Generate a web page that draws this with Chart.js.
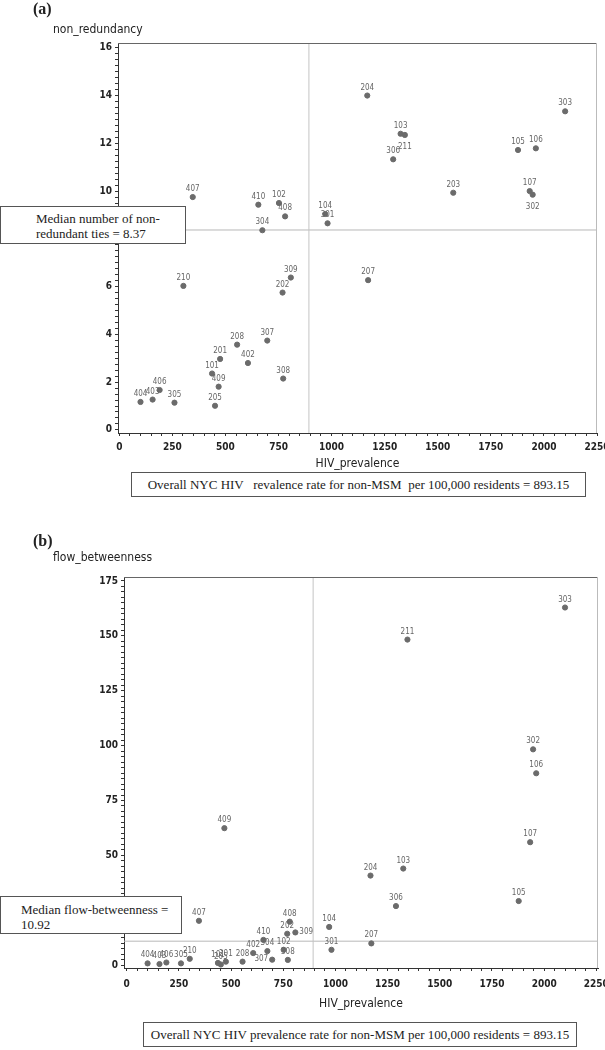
<!DOCTYPE html>
<html>
<head>
<meta charset="utf-8">
<script src="https://cdn.jsdelivr.net/npm/chart.js@4.4.1/dist/chart.umd.min.js"></script>
<style>
body { margin:0; background:#fff; width:605px; height:1050px; position:relative; overflow:hidden;
       font-family:'Liberation Sans Narrow','DejaVu Sans Condensed','Liberation Sans',Arial,sans-serif; color:#222; }
canvas { position:absolute; left:0; }
.t { position:absolute; white-space:pre; z-index:2; }
.panel { font-family:'Liberation Serif','Times New Roman',serif; font-weight:bold; font-size:16px; }
.ytitle { font-size:12px; }
.box { position:absolute; z-index:2; border:1px solid #555; background:#fff; box-sizing:border-box;
       font-family:'Liberation Serif','Times New Roman',serif; font-size:13px; line-height:15px; white-space:pre; }
</style>
</head>
<body>
<div class="t panel" style="left:33px;top:0px">(a)</div>
<div class="t ytitle" style="left:53px;top:22px">non_redundancy</div>
<canvas id="chartA" width="605" height="500" style="top:0"></canvas>
<div class="box" style="left:0;top:206px;width:186px;height:38px;padding:4px 0 0 35px">Median number of non-
redundant ties = 8.37</div>
<div class="box" style="left:131px;top:472px;width:455px;height:25px;padding-top:4px;text-align:center">Overall NYC HIV   revalence rate for non-MSM  per 100,000 residents = 893.15</div>

<div class="t panel" style="left:33px;top:532px">(b)</div>
<div class="t ytitle" style="left:53px;top:550px">flow_betweenness</div>
<canvas id="chartB" width="605" height="550" style="top:500px"></canvas>
<div class="box" style="left:0;top:896px;width:182px;height:38px;padding:5px 0 0 20px">Median flow-betweenness =
10.92</div>
<div class="box" style="left:143px;top:1022px;width:434px;height:25px;padding-top:4px;text-align:center">Overall NYC HIV prevalence rate for non-MSM per 100,000 residents = 893.15</div>

<script>
const districts = ['101','102','103','104','105','106','107','201','202','203','204','205','207','208','210','211',
    '301','302','303','304','305','306','307','308','309','402','403','404','406','407','408','409','410'];
const hivPrevalence = [437,752,1325,970,1878,1962,1933,475,769,1573,1168,451,1172,555,302,1345,
    981,1947,2100,674,260,1290,697,772,808,606,157,100,190,346,781,468,655];
const nonRedundancy = [2.36,9.50,12.40,9.04,11.72,11.79,10.0,2.97,5.75,9.93,14.0,1.01,6.27,3.57,6.03,12.35,
    8.65,9.85,13.34,8.36,1.14,11.33,3.74,2.15,6.38,2.80,1.27,1.17,1.67,9.75,8.94,1.81,9.43];
const flowBetweenness = [1.0,7.0,44.0,17.4,29.2,87.4,56.0,1.6,14.3,null,40.8,0.3,9.9,1.6,2.9,148.3,
    7.0,98.3,162.9,6.4,0.8,26.9,2.5,2.4,14.9,5.5,0.5,0.8,1.2,20.2,19.8,62.4,11.5];
const overallRate = 893.15;
const medianNonRedundancy = 8.37;
const medianFlow = 10.92;
const xTickLabels = [0,250,500,750,1000,1250,1500,1750,2000,2250];
const yTickLabelsA = [0,2,4,6,8,10,12,14,16];
const yTickLabelsB = [0,25,50,75,100,125,150,175];

// where a district label sits relative to its dot (default: above)
const labelSideA = {'211':'below','302':'below'};
const labelSideB = {'309':'right','307':'left'};

const narrow = "'Liberation Sans Narrow','DejaVu Sans Condensed','Liberation Sans',Arial";
const tickFont = {family: narrow, size: 10, weight: 'bold'};

const pointLabels = {
    id: 'pointLabels',
    afterDatasetsDraw(chart, args, opts) {
        const ctx = chart.ctx;
        const meta = chart.getDatasetMeta(0);
        ctx.save();
        ctx.font = "8px " + narrow;
        ctx.fillStyle = '#666';
        ctx.textBaseline = 'middle';
        meta.data.forEach((pt, i) => {
            if (pt.skip || isNaN(pt.y)) return;
            const name = chart.data.datasets[0].data[i].name;
            const side = opts.sides[name] || 'above';
            let x = pt.x, y = pt.y - 8;
            ctx.textAlign = 'center';
            if (side === 'below') y = pt.y + 12;
            if (side === 'right') { x = pt.x + 4; y = pt.y - 1; ctx.textAlign = 'left'; }
            if (side === 'left') { x = pt.x - 4; y = pt.y - 1; ctx.textAlign = 'right'; }
            ctx.fillText(name, x, y);
        });
        ctx.restore();
    }
};

const frame = {
    id: 'frame',
    afterDraw(chart) {
        const {ctx, chartArea: a} = chart;
        ctx.save();
        ctx.lineWidth = 1;
        ctx.strokeStyle = '#666';
        ctx.beginPath(); ctx.moveTo(a.left, a.top + 0.5); ctx.lineTo(a.right, a.top + 0.5); ctx.stroke();
        ctx.strokeStyle = '#bbb';
        ctx.beginPath(); ctx.moveTo(a.right - 0.5, a.top); ctx.lineTo(a.right - 0.5, a.bottom); ctx.stroke();
        ctx.restore();
    }
};

function makeChart(id, yValues, median, p) {
    const pts = [];
    districts.forEach((d, i) => {
        if (yValues[i] !== null) pts.push({x: hivPrevalence[i], y: yValues[i], name: d});
    });
    return new Chart(document.getElementById(id), {
        type: 'scatter',
        data: {
            datasets: [{
                data: pts,
                backgroundColor: '#6b6b6b',
                borderColor: '#6b6b6b',
                pointRadius: 2.6,
                order: 0
            }, {
                type: 'line',
                data: [{x: overallRate, y: p.yMin}, {x: overallRate, y: p.yMax}],
                borderColor: '#c4c4c4', borderWidth: 1, pointRadius: 0, order: 1
            }, {
                type: 'line',
                data: [{x: p.xMin, y: median}, {x: p.xMax, y: median}],
                borderColor: '#b8b8b8', borderWidth: 1, pointRadius: 0, order: 1
            }]
        },
        options: {
            responsive: false,
            animation: false,
            layout: {padding: p.padding},
            plugins: {
                legend: {display: false},
                tooltip: {enabled: false},
                pointLabels: {sides: p.sides}
            },
            scales: {
                x: {
                    type: 'linear', min: p.xMin, max: p.xMax,
                    border: {color: '#333'},
                    grid: {drawOnChartArea: false, tickLength: 3, color: '#333'},
                    ticks: {
                        stepSize: 50, includeBounds: false, autoSkip: false, maxRotation: 0, minRotation: 0,
                        padding: p.xPad, color: '#222', font: tickFont,
                        callback: v => xTickLabels.includes(v) ? String(v) : ''
                    },
                    title: {display: true, text: 'HIV_prevalence', color: '#222',
                        font: {family: narrow, size: 12}},
                    afterFit: s => { s.height = p.xH; s.paddingLeft = 0; s.paddingRight = 0; }
                },
                y: {
                    type: 'linear', min: p.yMin, max: p.yMax,
                    border: {color: '#333'},
                    grid: {drawOnChartArea: false, tickLength: 3, color: '#333'},
                    ticks: {
                        stepSize: p.yStep, includeBounds: false, autoSkip: false,
                        padding: 3, color: '#222', font: tickFont,
                        callback: v => p.yLabels.includes(v) ? String(v) : ''
                    },
                    afterFit: s => { s.width = 40; s.paddingTop = 0; s.paddingBottom = 0; }
                }
            }
        },
        plugins: [pointLabels, frame]
    });
}

makeChart('chartA', nonRedundancy, medianNonRedundancy, {
    xMin: -6, xMax: 2250, yMin: -0.13, yMax: 16.2, yStep: 0.25, yLabels: yTickLabelsA,
    padding: {left: 78, right: 8, top: 43, bottom: 25}, xH: 42, xPad: 5, sides: labelSideA
});
makeChart('chartB', flowBetweenness, medianFlow, {
    xMin: -13, xMax: 2258, yMin: -1.3, yMax: 176.8, yStep: 2.5, yLabels: yTickLabelsB,
    padding: {left: 84, right: 7, top: 77, bottom: 35}, xH: 47, xPad: 7, sides: labelSideB
});
</script>
</body>
</html>
